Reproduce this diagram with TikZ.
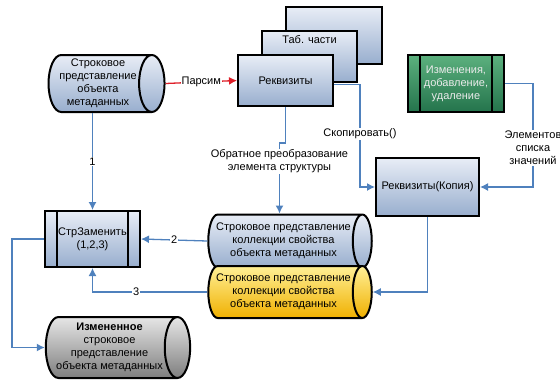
\documentclass[tikz,border=0pt]{standalone}
\usepackage{fontspec}
\setmainfont{Liberation Sans}
\usetikzlibrary{arrows.meta,shapes.geometric,positioning}
\definecolor{boxtop}{RGB}{232,237,246}
\definecolor{boxbot}{RGB}{152,174,206}
\definecolor{greentop}{RGB}{92,176,126}
\definecolor{greenbot}{RGB}{36,116,76}
\definecolor{yellowtop}{RGB}{255,240,150}
\definecolor{yellowbot}{RGB}{240,176,0}
\definecolor{graytop}{RGB}{230,230,230}
\definecolor{graybot}{RGB}{126,126,126}
\definecolor{linkblue}{RGB}{79,129,189}
\definecolor{parsered}{RGB}{222,30,40}

\begin{document}
\begin{tikzpicture}[x=1pt,y=-1pt,
  font=\fontsize{11}{13}\selectfont,
  attr/.style={draw=black,line width=2pt,top color=boxtop,bottom color=boxbot,
               minimum width=95pt,minimum height=51pt,align=center,inner sep=2pt},
  proc/.style={attr,path picture={
      \draw[line width=2pt] ([xshift=12pt]path picture bounding box.north west)
        -- ([xshift=12pt]path picture bounding box.south west);
      \draw[line width=2pt] ([xshift=-12pt]path picture bounding box.north east)
        -- ([xshift=-12pt]path picture bounding box.south east);}},
  store/.style={cylinder,draw=black,line width=2pt,top color=boxtop,
                bottom color=boxbot,aspect=0.5,align=center,inner sep=1pt},
  link/.style={-{Latex[length=8pt,width=8pt]},line width=1.3pt,color=linkblue},
  lbl/.style={fill=white,inner sep=1pt,text=black,align=center}]
\useasboundingbox (0,0) rectangle (560,384);
% attribute stack
\node[attr,minimum width=96pt,minimum height=57pt](back) at (334,35.5) {};
\node[attr,label={[anchor=north,yshift=-2pt]north:Таб. части}](tab) at (309.5,56.5) {};
\node[attr](rek) at (285.5,80.5) {Реквизиты};
\node[store,minimum height=116pt,minimum width=57pt](src) at (98,83.5)
  {Строковое\\представление\\объекта\\метаданных};
\node[proc,top color=greentop,bottom color=greenbot,text=white!92!black,
      minimum width=96pt,minimum height=57pt](chg) at (456,83.5)
  {Изменения,\\добавление,\\удаление};
\node[attr,minimum width=103pt,minimum height=58pt](copy) at (427.5,187) {Реквизиты(Копия)};
\node[proc,minimum height=56pt](repl) at (92.5,239) {СтрЗаменить\\(1,2,3)};
\node[store,minimum height=163pt,minimum width=53pt](coll) at (283.5,241)
  {Строковое представление\\коллекции свойства\\объекта метаданных};
\node[store,top color=yellowtop,bottom color=yellowbot,
      minimum height=163pt,minimum width=52pt](colly) at (283.5,292)
  {Строковое представление\\коллекции свойства\\объекта метаданных};
\node[store,top color=graytop,bottom color=graybot,
      minimum height=135pt,minimum width=61pt](res) at (109.5,347.5)
  {\textbf{Измененное}\\строковое\\представление\\объекта метаданных};
% connectors
\draw[link,color=parsered](src.east) -- node[lbl]{Парсим} (rek.west);
\draw[link](src.south -| repl.north) -- node[lbl]{1} (repl.north);
\draw[link](coll.west) -- node[lbl]{2} (repl.east);
\draw[link](colly.west) -| node[lbl,pos=0.31]{3} (repl.south);
\draw[link](repl.west) -- ++(-32,0) |- (res.west);
\draw[link](rek.south) -- ++(0,36) -| node[lbl,pos=0.63]
  {Обратное преобразование\\элемента структуры} ([xshift=-4pt]coll.north);
\draw[link]([yshift=-4pt]rek.east) -- ++(26,0) |- node[lbl,pos=0.24]
  {Скопировать()} (copy.west);
\draw[link](chg.east) -- ++(28,0) |- node[lbl,pos=0.31]
  {Элементов\\списка\\значений} (copy.east);
\draw[link](copy.south) |- (colly.east);
\end{tikzpicture}
\end{document}
